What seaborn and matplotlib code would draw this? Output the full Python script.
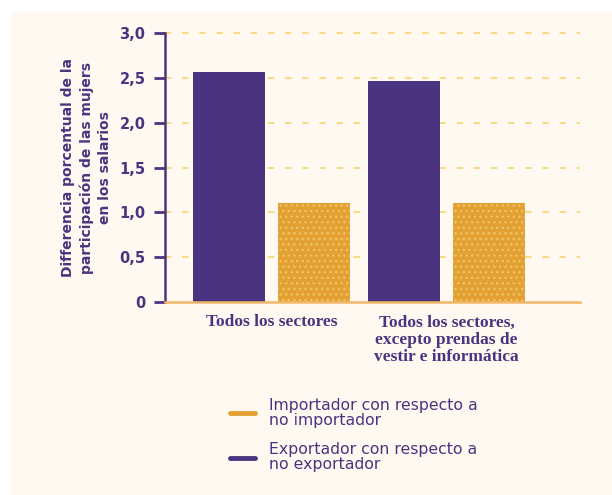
import matplotlib
matplotlib.use("Agg")
import matplotlib.pyplot as plt
import seaborn as sns
import pandas as pd
from matplotlib.lines import Line2D
from matplotlib.patches import Rectangle

# Data
categories = ["Todos los sectores", "Todos los sectores,\nexcepto prendas de\nvestir e informática"]
exportador = [2.57, 2.46]
importador = [1.10, 1.10]
series_names = ["Exportador con respecto a\nno exportador", "Importador con respecto a\nno importador"]
ytick_values = [0, 0.5, 1.0, 1.5, 2.0, 2.5, 3.0]
ytick_labels = ["0", "0,5", "1,0", "1,5", "2,0", "2,5", "3,0"]

PURPLE = "#4A3480"
ORANGE = "#E3A033"
CREAM = "#FFF9F1"
GRID = "#F7D77A"

sns.set_theme(style="white")
plt.rcParams["font.family"] = ["DejaVu Sans"]
plt.rcParams["hatch.linewidth"] = 1.0

df = pd.DataFrame({
    "categoria": categories * 2,
    "valor": exportador + importador,
    "serie": [series_names[0]] * 2 + [series_names[1]] * 2,
})

fig = plt.figure(figsize=(6.12, 4.95), dpi=100, facecolor="white")
bg = Rectangle((11 / 612, 0), 1, 1 - 12 / 495, transform=fig.transFigure,
               facecolor=CREAM, edgecolor="none", zorder=-10)
fig.add_artist(bg)
ax = fig.add_axes([165 / 612, 1 - 302 / 495, 415 / 612, 269 / 495])
ax.patch.set_alpha(0)

sns.barplot(data=df, x="categoria", y="valor", hue="serie", order=categories,
            hue_order=series_names, palette=[PURPLE, ORANGE], width=0.97, gap=0.155,
            saturation=1, legend=False, ax=ax, zorder=3)

# dotted texture on the importer bars
orange_rgba = matplotlib.colors.to_rgba(ORANGE)
for p in ax.patches:
    fc = p.get_facecolor()
    if abs(fc[0] - orange_rgba[0]) < 0.02 and abs(fc[2] - orange_rgba[2]) < 0.02:
        p.set_hatch("...")
        p.set_edgecolor("#F0C262")
    p.set_linewidth(0)

ax.set_xlim(-0.609, 1.763)
ax.set_ylim(0, 3.0)
ax.set_yticks(ytick_values)
ax.set_yticklabels(ytick_labels, fontsize=10.5, fontweight="bold", color=PURPLE)
for y in ytick_values[1:]:
    ax.axhline(y, color=GRID, lw=1.3, dashes=(3.5, 6), zorder=1, clip_on=False)

ax.set_xlabel("")
ax.set_ylabel("Differencia porcentual de la\nparticipación de las mujers\nen los salarios",
              fontsize=10, fontweight="bold", color=PURPLE, labelpad=5, linespacing=1.4)
ax.set_xticks([0, 1])
ax.set_xticklabels(categories, fontsize=12.5, fontweight="bold", color=PURPLE,
                   family=["Liberation Serif", "DejaVu Serif"], linespacing=1.12)
ax.tick_params(axis="x", bottom=False, length=0, pad=9)
ax.tick_params(axis="y", left=True, direction="out", length=8, width=2.0,
               color=PURPLE, pad=6)

for s in ["top", "right"]:
    ax.spines[s].set_visible(False)
ax.spines["left"].set_color(PURPLE)
ax.spines["left"].set_linewidth(1.8)
ax.spines["bottom"].set_color("#F0B868")
ax.spines["bottom"].set_linewidth(1.8)
ax.spines["bottom"].set_zorder(4)

handles = [Line2D([], [], color=ORANGE, lw=3.5, solid_capstyle="round"),
           Line2D([], [], color=PURPLE, lw=3.5, solid_capstyle="round")]
leg = fig.legend(handles, [series_names[1], series_names[0]], loc="upper left",
                 bbox_to_anchor=(216 / 612, 1 - 384 / 495), frameon=False,
                 fontsize=11.3, labelcolor=PURPLE, handlelength=1.6, handletextpad=0.9,
                 labelspacing=0.95)
for t in leg.get_texts():
    t.set_linespacing(0.95)

fig.savefig("out.png", dpi=100, facecolor="white")
